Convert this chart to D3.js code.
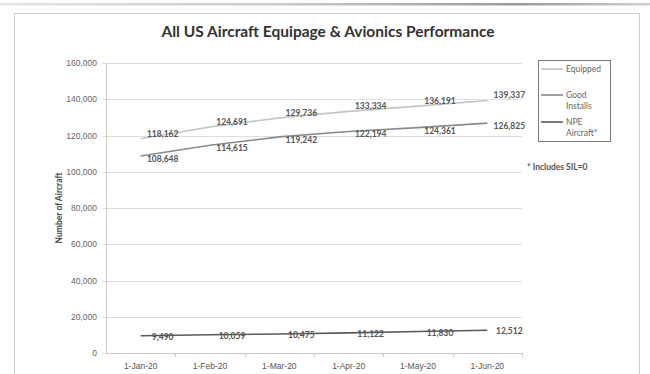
<!DOCTYPE html>
<html>
<head>
<meta charset="utf-8">
<script src="https://cdn.jsdelivr.net/npm/d3@7"></script>
<style>
  body { margin: 0; background: #fff; }
  svg { display: block; font-family: Lato, "Open Sans", sans-serif; }
</style>
</head>
<body>
<div id="chart"></div>
<script>
// chart values
var months = ["1-Jan-20", "1-Feb-20", "1-Mar-20", "1-Apr-20", "1-May-20", "1-Jun-20"];
var equipped = [118162, 124691, 129736, 133334, 136191, 139337];
var goodInstalls = [108648, 114615, 119242, 122194, 124361, 126825];
var npeAircraft = [9490, 10059, 10475, 11122, 11830, 12512];
var yTicks = [0, 20000, 40000, 60000, 80000, 100000, 120000, 140000, 160000];

var series = [
  { name: ["Equipped"], values: equipped, color: "#c4c4c4", dy: -5 },
  { name: ["Good", "Installs"], values: goodInstalls, color: "#8a8a8a", dy: 3 },
  { name: ["NPE", "Aircraft*"], values: npeAircraft, color: "#5a5a5a", dy: 1 }
];

var W = 650, H = 374;
var margin = { top: 63, right: 128, bottom: 21, left: 106 },
    width = W - margin.left - margin.right,
    height = H - margin.top - margin.bottom;

var svg = d3.select("#chart").append("svg")
    .attr("width", W)
    .attr("height", H);

// scan artefact at the top and the chart frame
var grad = svg.append("defs").append("linearGradient").attr("id", "scan");
grad.append("stop").attr("offset", "0%").attr("stop-color", "#e4e4e4");
grad.append("stop").attr("offset", "45%").attr("stop-color", "#c8c8c8");
grad.append("stop").attr("offset", "80%").attr("stop-color", "#9a9a9a");
grad.append("stop").attr("offset", "100%").attr("stop-color", "#d0d0d0");
svg.append("rect").attr("x", 0).attr("y", 3).attr("width", W).attr("height", 2.5)
    .attr("fill", "url(#scan)");

svg.append("rect")
    .attr("x", 14.5).attr("y", 13.5)
    .attr("width", 625).attr("height", 400)
    .attr("fill", "none")
    .attr("stroke", "#cfcfcf");

svg.append("text")
    .attr("x", 328).attr("y", 37)
    .attr("text-anchor", "middle")
    .style("font-size", "15.5px")
    .style("font-weight", "bold")
    .style("fill", "#333")
    .text("All US Aircraft Equipage & Avionics Performance");

var g = svg.append("g")
    .attr("transform", "translate(" + margin.left + "," + margin.top + ")");

var xScale = d3.scaleBand().domain(months).range([0, width]).padding(0);
var yScale = d3.scaleLinear().domain([0, 160000]).range([height, 0]);
var cx = function(i) { return xScale(months[i]) + xScale.bandwidth() / 2; };

// gridlines
g.append("g")
  .selectAll("line")
  .data(yTicks)
  .enter()
  .append("line")
  .attr("x1", -4)
  .attr("x2", width)
  .attr("y1", function(d) { return Math.round(yScale(d)) + 0.5; })
  .attr("y2", function(d) { return Math.round(yScale(d)) + 0.5; })
  .attr("stroke", "#dedede");

// y axis
var yAxis = d3.axisLeft(yScale).tickValues(yTicks).tickSize(0).tickPadding(9)
    .tickFormat(d3.format(",d"));
var yg = g.append("g").call(yAxis);
yg.select(".domain").attr("stroke", "#c8c8c8");
yg.selectAll("text").style("font-size", "8.5px").style("fill", "#666");

// x axis
var xAxis = d3.axisBottom(xScale).tickSize(0).tickPadding(10);
var xg = g.append("g").attr("transform", "translate(0," + height + ")").call(xAxis);
xg.select(".domain").attr("stroke", "#c8c8c8");
xg.selectAll("text").style("font-size", "8.5px").style("fill", "#555");
xg.selectAll(".bound")
  .data(months)
  .enter()
  .append("line")
  .attr("x1", function(d) { return Math.round(xScale(d) + xScale.bandwidth()) + 0.5; })
  .attr("x2", function(d) { return Math.round(xScale(d) + xScale.bandwidth()) + 0.5; })
  .attr("y1", 0)
  .attr("y2", 4)
  .attr("stroke", "#c8c8c8");

svg.append("text")
    .attr("transform", "translate(62," + (margin.top + yScale(80000)) + ") rotate(-90)")
    .attr("text-anchor", "middle")
    .style("font-size", "8.5px")
    .style("font-weight", "bold")
    .style("fill", "#444")
    .text("Number of Aircraft");

// lines
var line = d3.line()
    .x(function(d, i) { return cx(i); })
    .y(function(d) { return yScale(d); });

series.forEach(function(s) {
  g.append("path")
    .datum(s.values)
    .attr("d", line)
    .attr("fill", "none")
    .attr("stroke", s.color)
    .attr("stroke-width", 1.6);

  g.selectAll(null)
    .data(s.values)
    .enter()
    .append("text")
    .attr("x", function(d, i) { return cx(i) + 22; })
    .attr("y", function(d) { return yScale(d) + s.dy; })
    .attr("dy", "0.35em")
    .attr("text-anchor", "middle")
    .style("font-size", "8.5px")
    .style("font-weight", "bold")
    .style("fill", "#555")
    .text(d3.format(","));
});

// legend
var lg = svg.append("g").attr("transform", "translate(538,60)");
lg.append("rect")
  .attr("x", 0.5).attr("y", 0.5)
  .attr("width", 72).attr("height", 81)
  .attr("fill", "#fff")
  .attr("stroke", "#7a7a7a");

var ly = [9, 35, 62];
series.forEach(function(s, k) {
  lg.append("line")
    .attr("x1", 3).attr("x2", 25)
    .attr("y1", ly[k]).attr("y2", ly[k])
    .attr("stroke", s.color)
    .attr("stroke-width", 1.6);
  s.name.forEach(function(t, j) {
    lg.append("text")
      .attr("x", 28)
      .attr("y", ly[k] + j * 11)
      .attr("dy", "0.35em")
      .style("font-size", "8.5px")
      .style("fill", "#666")
      .text(t);
  });
});

svg.append("text")
    .attr("x", 527).attr("y", 167)
    .attr("dy", "0.35em")
    .style("font-size", "8.5px")
    .style("font-weight", "bold")
    .style("fill", "#555")
    .text("* Includes SIL=0");
</script>
</body>
</html>
